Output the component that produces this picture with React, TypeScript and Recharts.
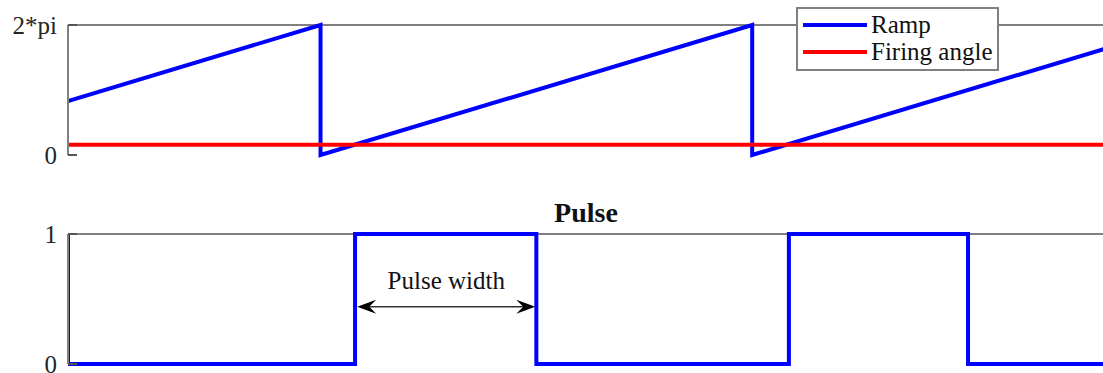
import { LineChart, Line, XAxis, YAxis, ReferenceLine, Legend } from "recharts";

const TWO_PI = 2 * Math.PI;

// time in ms, one ramp period = 20 ms
const rampT = [0, 11.7, 11.7, 31.7, 31.7, 48];
const rampV = [2.61, TWO_PI, 0, TWO_PI, 0, 5.12];
const firingT = [0, 48];
const firingV = [0.5, 0.5];
const pulseT = [0, 0, 13.3, 13.3, 21.7, 21.7, 33.4, 33.4, 41.7, 41.7, 48];
const pulseV = [1, 0, 0, 1, 1, 0, 0, 1, 1, 0, 0];
const topTicks = [0, TWO_PI];
const topTickLabels = ["0", "2*pi"];
const pulseTicks = [0, 1];
const pulseTickLabels = ["0", "1"];
const widthMark = { from: 13.4, to: 21.65, level: 0.44, text: "Pulse width" };

const rampData = rampT.map((t, i) => ({ t, v: rampV[i] }));
const firingData = firingT.map((t, i) => ({ t, v: firingV[i] }));
const pulseData = pulseT.map((t, i) => ({ t, v: pulseV[i] }));

const FONT = "'Liberation Serif', 'Times New Roman', serif";
const GREY = "#808080";
const tickStyle = { fontSize: 25, fontFamily: FONT, fill: "#262626" };

function LegendBox() {
  const rows = [
    { name: "Ramp", color: "#0000ff" },
    { name: "Firing angle", color: "#ff0000" },
  ];
  return (
    <div
      style={{
        width: 199,
        height: 58,
        border: `2px solid ${GREY}`,
        background: "#fff",
        paddingTop: 2,
        boxSizing: "content-box",
        fontFamily: FONT,
        textAlign: "left",
      }}
    >
      {rows.map((r) => (
        <div key={r.name} style={{ display: "flex", alignItems: "center", height: 27 }}>
          <div style={{ width: 64, height: 4, background: r.color, marginLeft: 5, marginRight: 4 }} />
          <span style={{ fontSize: 25, lineHeight: "27px", color: "#111", whiteSpace: "nowrap" }}>{r.name}</span>
        </div>
      ))}
    </div>
  );
}

function ArrowShape(props: any) {
  const { x1, x2, y1 } = props;
  const y = y1;
  return (
    <g>
      <line x1={x1 + 8} y1={y} x2={x2 - 8} y2={y} stroke="#333" strokeWidth={1.5} />
      <path d={`M${x1},${y} L${x1 + 19},${y - 7} L${x1 + 12},${y} L${x1 + 19},${y + 7} Z`} fill="#000" />
      <path d={`M${x2},${y} L${x2 - 19},${y - 7} L${x2 - 12},${y} L${x2 - 19},${y + 7} Z`} fill="#000" />
      <text
        x={(x1 + x2) / 2}
        y={y - 18}
        textAnchor="middle"
        fontSize={25}
        fontFamily={FONT}
        fill="#111"
      >
        {widthMark.text}
      </text>
    </g>
  );
}

export default function App() {
  return (
    <div
      style={{
        position: "absolute",
        left: 0,
        top: 0,
        width: 1103,
        height: 373,
        overflow: "hidden",
        background: "#fff",
      }}
    >
      {/* Ramp vs firing angle */}
      <div style={{ position: "absolute", left: 0, top: 0 }}>
        <LineChart width={1110} height={190} margin={{ top: 25, right: 6, bottom: 35, left: 0 }}>
          <XAxis
            type="number"
            dataKey="t"
            domain={[0, 48]}
            allowDataOverflow
            height={0}
            tick={false}
            tickLine={false}
            axisLine={{ stroke: GREY, strokeWidth: 2 }}
          />
          <YAxis
            type="number"
            domain={[0, TWO_PI]}
            ticks={topTicks}
            interval={0}
            tickFormatter={(v: number) => topTickLabels[topTicks.indexOf(v)] ?? ""}
            width={68}
            tickSize={-9}
            tickMargin={20}
            tick={tickStyle}
            tickLine={{ stroke: "#555", strokeWidth: 2 }}
            axisLine={{ stroke: GREY, strokeWidth: 2 }}
          />
          <ReferenceLine y={TWO_PI} stroke={GREY} strokeWidth={2} />
          <Line
            data={rampData}
            dataKey="v"
            name="Ramp"
            type="linear"
            stroke="#0000ff"
            strokeWidth={4}
            dot={false}
            isAnimationActive={false}
          />
          <Line
            data={firingData}
            dataKey="v"
            name="Firing angle"
            type="linear"
            stroke="#ff0000"
            strokeWidth={4}
            dot={false}
            isAnimationActive={false}
          />
          <Legend
            layout="horizontal"
            verticalAlign="middle"
            align="center"
            content={() => <LegendBox />}
            wrapperStyle={{ position: "absolute", left: 796, top: 7, width: 203, height: 62, right: "auto", bottom: "auto" }}
          />
        </LineChart>
      </div>

      <div
        style={{
          position: "absolute",
          left: 68,
          width: 1036,
          top: 199,
          textAlign: "center",
          fontFamily: FONT,
          fontWeight: "bold",
          fontSize: 28,
          lineHeight: "28px",
          color: "#111",
        }}
      >
        Pulse
      </div>

      {/* Pulse */}
      <div style={{ position: "absolute", left: 0, top: 190 }}>
        <LineChart width={1110} height={183} margin={{ top: 44, right: 6, bottom: 9, left: 0 }}>
          <XAxis
            type="number"
            dataKey="t"
            domain={[0, 48]}
            allowDataOverflow
            height={0}
            tick={false}
            tickLine={false}
            axisLine={{ stroke: GREY, strokeWidth: 2 }}
          />
          <YAxis
            type="number"
            domain={[0, 1]}
            ticks={pulseTicks}
            interval={0}
            tickFormatter={(v: number) => pulseTickLabels[pulseTicks.indexOf(v)] ?? ""}
            width={68}
            tickSize={-9}
            tickMargin={20}
            tick={tickStyle}
            tickLine={{ stroke: "#555", strokeWidth: 2 }}
            axisLine={{ stroke: GREY, strokeWidth: 2 }}
          />
          <ReferenceLine y={1} stroke={GREY} strokeWidth={2} />
          <Line
            data={pulseData}
            dataKey="v"
            name="Pulse"
            type="linear"
            stroke="#0000ff"
            strokeWidth={4}
            dot={false}
            isAnimationActive={false}
          />
          <ReferenceLine
            segment={[
              { x: widthMark.from, y: widthMark.level },
              { x: widthMark.to, y: widthMark.level },
            ]}
            ifOverflow="visible"
            shape={ArrowShape}
          />
        </LineChart>
      </div>
    </div>
  );
}
